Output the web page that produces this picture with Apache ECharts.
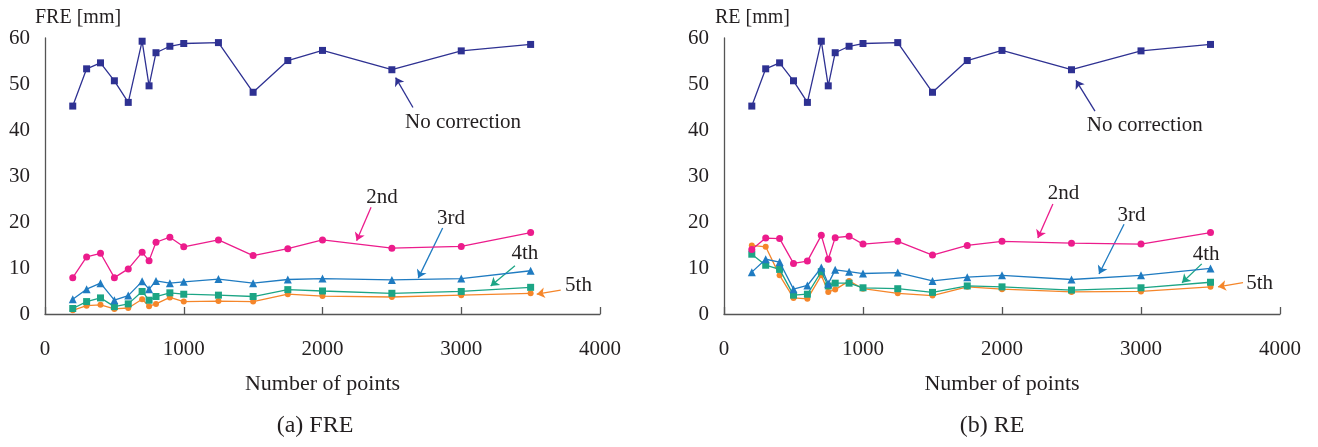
<!DOCTYPE html>
<html>
<head>
<meta charset="utf-8">
<script src="https://cdn.jsdelivr.net/npm/echarts@6/dist/echarts.min.js"></script>
<style>
  html, body { margin: 0; padding: 0; background: #fff; }
  #chart { width: 1318px; height: 447px; }
</style>
</head>
<body>
<div id="chart"></div>
<script>
const points = [200, 300, 400, 500, 600, 700, 750, 800, 900, 1000, 1250, 1500, 1750, 2000, 2500, 3000, 3500];
const seriesNames = ['No correction', '2nd', '3rd', '4th', '5th'];

// FRE [mm]
const freNone = [45.2, 53.3, 54.6, 50.7, 46.0, 59.3, 49.6, 56.8, 58.2, 58.8, 59.0, 48.2, 55.1, 57.3, 53.1, 57.2, 58.6];
const fre2nd = [7.9, 12.4, 13.2, 7.9, 9.8, 13.4, 11.6, 15.6, 16.7, 14.6, 16.1, 12.7, 14.2, 16.1, 14.3, 14.7, 17.7];
const fre3rd = [3.2, 5.4, 6.7, 3.0, 4.0, 7.1, 5.4, 7.2, 6.7, 7.0, 7.6, 6.7, 7.5, 7.7, 7.4, 7.7, 9.4];
const fre4th = [1.2, 2.7, 3.5, 1.6, 2.2, 4.9, 3.0, 3.8, 4.6, 4.3, 4.1, 3.8, 5.3, 5.0, 4.5, 4.9, 5.8];
const fre5th = [0.8, 1.8, 2.0, 1.1, 1.3, 3.2, 1.7, 2.2, 3.6, 2.7, 2.8, 2.7, 4.3, 3.9, 3.7, 4.1, 4.5];

// RE [mm]
const reNone = [45.2, 53.3, 54.6, 50.7, 46.0, 59.3, 49.6, 56.8, 58.2, 58.8, 59.0, 48.2, 55.1, 57.3, 53.1, 57.2, 58.6];
const re2nd = [14.0, 16.5, 16.4, 11.0, 11.5, 17.1, 11.9, 16.6, 16.9, 15.2, 15.8, 12.8, 14.9, 15.8, 15.4, 15.2, 17.7];
const re3rd = [9.1, 11.9, 11.3, 5.4, 6.2, 10.1, 6.6, 9.6, 9.2, 8.8, 9.0, 7.2, 8.0, 8.4, 7.5, 8.4, 9.9];
const re4th = [13.0, 10.6, 9.7, 4.1, 4.3, 9.2, 6.1, 6.7, 6.7, 5.7, 5.5, 4.7, 6.1, 5.9, 5.2, 5.7, 6.9];
const re5th = [14.9, 14.6, 8.4, 3.5, 3.3, 8.4, 4.8, 5.3, 7.2, 5.5, 4.5, 4.0, 5.9, 5.4, 4.8, 4.9, 5.9];

// labels with arrows, in data coordinates: text centre, arrow tail, arrow head
const freNotes = [
  { text: 'No correction', at: [3013, 41.7], from: [2652, 44.9], to: [2527, 51.4] },
  { text: '2nd', at: [2429, 25.4], from: [2350, 23.2], to: [2246, 15.9] },
  { text: '3rd', at: [2926, 20.8], from: [2866, 18.7], to: [2690, 7.8] },
  { text: '4th', at: [3459, 13.2], from: [3387, 10.5], to: [3212, 6.1] },
  { text: '5th', at: [3845, 6.3], from: [3717, 5.2], to: [3544, 4.3] }
];
const reNotes = [
  { text: 'No correction', at: [3027, 41.0], from: [2669, 44.1], to: [2532, 50.8] },
  { text: '2nd', at: [2442, 26.3], from: [2366, 23.9], to: [2258, 16.5] },
  { text: '3rd', at: [2932, 21.5], from: [2878, 19.5], to: [2698, 8.7] },
  { text: '4th', at: [3468, 13.0], from: [3437, 10.9], to: [3295, 6.8] },
  { text: '5th', at: [3853, 6.7], from: [3734, 6.8], to: [3554, 5.9] }
];

const colors = ['#2E3192', '#EC1C8C', '#1F7BC1', '#1CA585', '#F5862A'];
const symbols = ['rect', 'circle', 'triangle', 'rect', 'circle'];
const symbolSizes = [7, 7, 8, 7, 6];

const serif = 'Liberation Serif';
const textColor = '#231F20';

const chart = echarts.init(document.getElementById('chart'));

function makeAxes(gridIndex) {
  const xAxis = {
    type: 'value', gridIndex: gridIndex, min: 0, max: 4000, interval: 1000,
    name: 'Number of points', nameLocation: 'middle', nameGap: 59,
    nameTextStyle: { fontFamily: serif, fontSize: 22, color: textColor },
    axisLine: { lineStyle: { color: '#555', width: 1.3 } },
    axisTick: { inside: true, length: 7, lineStyle: { color: '#555', width: 1.3 } },
    axisLabel: { fontFamily: serif, fontSize: 21, color: textColor, margin: 25, formatter: v => String(v) },
    splitLine: { show: false }
  };
  const yAxis = {
    type: 'value', gridIndex: gridIndex, min: 0, max: 60, interval: 10,
    axisLine: { show: true, lineStyle: { color: '#555', width: 1.3 } },
    axisTick: { show: false },
    axisLabel: { fontFamily: serif, fontSize: 21, color: textColor, margin: 15 },
    splitLine: { show: false }
  };
  return [xAxis, yAxis];
}

function makeSeries(gridIndex, lists, notes) {
  return lists.map((vals, i) => ({
    name: seriesNames[i],
    type: 'line',
    xAxisIndex: gridIndex,
    yAxisIndex: gridIndex,
    data: points.map((p, j) => [p, vals[j]]),
    symbol: symbols[i],
    symbolSize: symbolSizes[i],
    showSymbol: true,
    itemStyle: { color: colors[i] },
    lineStyle: { color: colors[i], width: 1.3 },
    z: 10 - i,
    silent: true,
    markLine: {
      silent: true,
      symbol: ['none', 'arrow'],
      symbolSize: 8,
      label: { show: false },
      lineStyle: { color: colors[i], width: 1.3, type: 'solid' },
      data: [[{ coord: notes[i].from }, { coord: notes[i].to }]]
    },
    markPoint: {
      silent: true,
      symbol: 'rect',
      symbolSize: 1,
      itemStyle: { color: 'rgba(0,0,0,0)' },
      label: {
        show: true, position: 'inside', formatter: '{b}',
        fontFamily: serif, fontSize: 21, color: textColor
      },
      data: [{ name: notes[i].text, coord: notes[i].at }]
    }
  }));
}

const axesA = makeAxes(0);
const axesB = makeAxes(1);

chart.setOption({
  animation: false,
  title: [
    { text: 'FRE [mm]', left: 30, top: 3, textStyle: { fontFamily: serif, fontSize: 20, fontWeight: 'normal', color: textColor } },
    { text: 'RE [mm]', left: 710, top: 3, textStyle: { fontFamily: serif, fontSize: 20, fontWeight: 'normal', color: textColor } }
  ],
  grid: [
    { left: 45, top: 38, width: 555, height: 276 },
    { left: 724, top: 38, width: 556, height: 276 }
  ],
  xAxis: [axesA[0], axesB[0]],
  yAxis: [axesA[1], axesB[1]],
  series: makeSeries(0, [freNone, fre2nd, fre3rd, fre4th, fre5th], freNotes)
    .concat(makeSeries(1, [reNone, re2nd, re3rd, re4th, re5th], reNotes)),
  graphic: [
    { type: 'text', x: 315, y: 414, style: { text: '(a) FRE', textAlign: 'center', fontFamily: serif, fontSize: 24, fill: textColor } },
    { type: 'text', x: 992, y: 414, style: { text: '(b) RE', textAlign: 'center', fontFamily: serif, fontSize: 24, fill: textColor } }
  ]
});
</script>
</body>
</html>
